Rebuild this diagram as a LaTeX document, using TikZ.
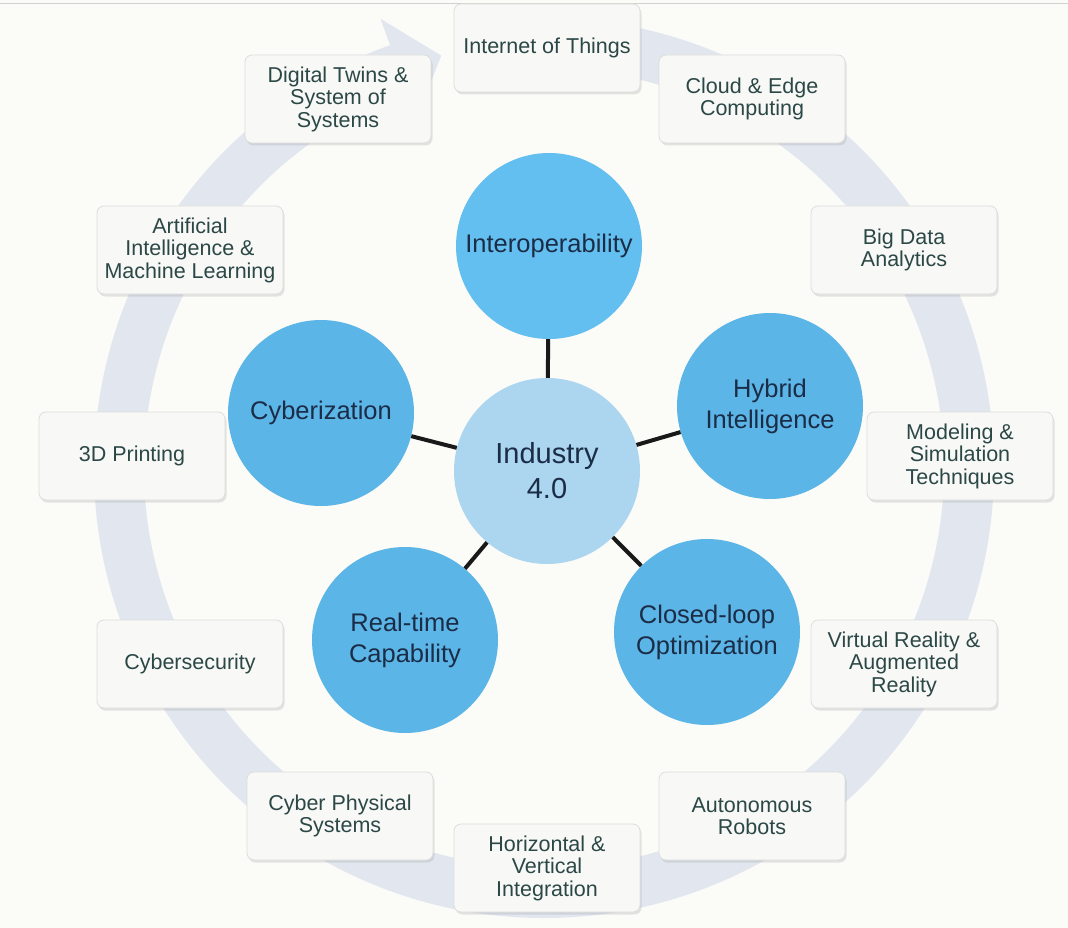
\documentclass[tikz,border=0pt]{standalone}
\usepackage{fontspec}
\setmainfont{Liberation Sans}
\usetikzlibrary{shadows}
\definecolor{bg}{HTML}{FBFBF8}
\definecolor{ringcol}{HTML}{E2E7EF}
\definecolor{boxfill}{HTML}{F8F8F6}
\definecolor{boxline}{HTML}{DCDEDD}
\definecolor{boxtext}{HTML}{2B4846}
\definecolor{circfill}{HTML}{5CB5E7}
\definecolor{circtop}{HTML}{63BFEF}
\definecolor{centfill}{HTML}{ACD5EF}
\definecolor{circtext}{HTML}{1B2C46}
\begin{document}
\begin{tikzpicture}[x=1pt,y=-1pt,
  box/.style={draw=boxline, line width=0.8pt, fill=boxfill, rounded corners=7pt,
    minimum width=186pt, minimum height=88pt, inner sep=0pt, align=center,
    text=boxtext, font=\fontsize{21.5}{22.5}\selectfont,
    drop shadow={opacity=0.22, shadow xshift=1.5pt, shadow yshift=-2.5pt, fill=black!45}},
  pillar/.style={circle, fill=circfill, minimum size=186pt, inner sep=0pt, align=center,
    text=circtext, font=\fontsize{25.5}{31}\selectfont},
  hub/.style={circle, fill=centfill, minimum size=186pt, inner sep=0pt, align=center,
    text=circtext, font=\fontsize{29}{35}\selectfont},
  conn/.style={line width=4pt, draw=black!90}]
\fill[bg] (0,0) rectangle (1068,928);
\useasboundingbox (0,0) rectangle (1068,928);
\draw[black!18, line width=1pt] (0,4) -- (1068,4);
% circular arrow
\begin{scope}[shift={(544,468)}, y=1pt]
\fill[ringcol] (92:450) arc[start angle=92, end angle=-250, radius=450]
  -- (-250:478) -- (-256:425) -- (-250:372) -- (-250:400)
  arc[start angle=-250, end angle=92, radius=400] -- cycle;
\end{scope}
% boxes
\node[box] (iot) at (547,48) {Internet of Things};
\node[box] (cloud) at (752,99) {Cloud \& Edge\\Computing};
\node[box] (dt) at (338,99) {Digital Twins \&\\System of\\Systems};
\node[box] (bigdata) at (904,250) {Big Data\\Analytics};
\node[box] (ai) at (190,250) {Artificial\\Intelligence \&\\Machine Learning};
\node[box] (model) at (960,456) {Modeling \&\\Simulation\\Techniques};
\node[box] (print) at (132,456) {3D Printing};
\node[box] (vr) at (904,664) {Virtual Reality \&\\Augmented\\Reality};
\node[box] (sec) at (190,664) {Cybersecurity};
\node[box] (robots) at (752,816) {Autonomous\\Robots};
\node[box] (cps) at (340,816) {Cyber Physical\\Systems};
\node[box] (hvi) at (547,868) {Horizontal \&\\Vertical\\Integration};
% circles
\node[hub] (center) at (547,471) {Industry\\4.0};
\node[pillar, fill=circtop] (interop) at (549,246) {Interoperability};
\node[pillar] (hybrid) at (770,406) {Hybrid\\Intelligence};
\node[pillar] (closed) at (707,632) {Closed-loop\\Optimization};
\node[pillar] (real) at (405,640) {Real-time\\Capability};
\node[pillar] (cyber) at (321,413) {Cyberization};
% connectors
\draw[conn] (center) -- (interop);
\draw[conn] (center) -- (hybrid);
\draw[conn] (center) -- (closed);
\draw[conn] (center) -- (real);
\draw[conn] (center) -- (cyber);
\end{tikzpicture}
\end{document}
